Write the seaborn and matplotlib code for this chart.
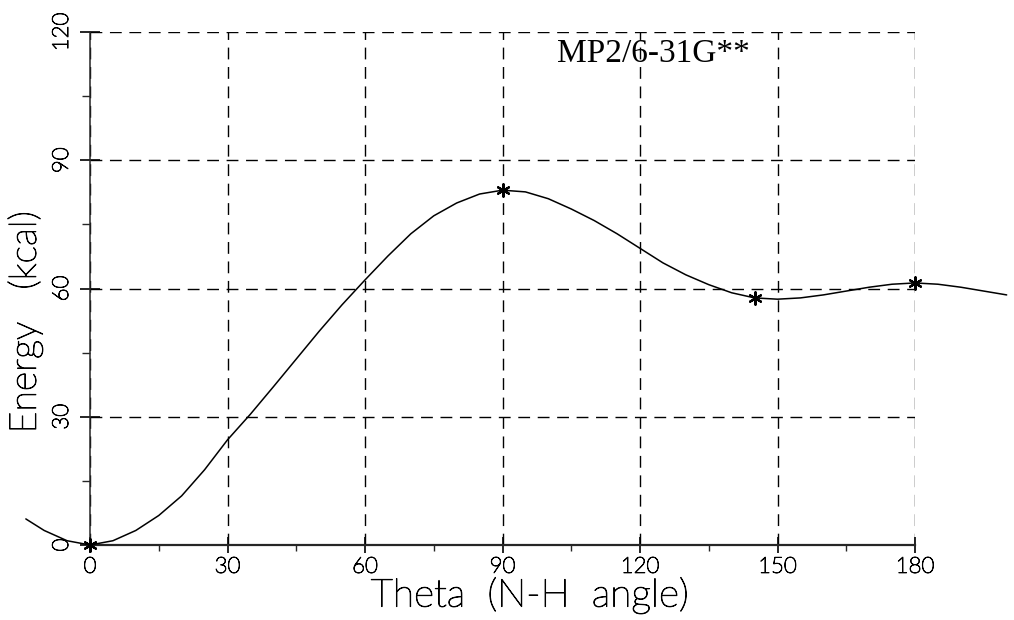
import matplotlib
matplotlib.use("Agg")
import matplotlib.pyplot as plt
import matplotlib.patheffects as pe
from matplotlib.ticker import MultipleLocator
import pandas as pd
import seaborn as sns

# Torsion scan: energy (kcal) against the N-H angle theta (degrees)
theta = [-14, -10, -5, 0, 5, 10, 15, 20, 25, 30, 35, 40, 45, 50, 55, 60, 65,
         70, 75, 80, 85, 90, 95, 100, 105, 110, 115, 120, 125, 130, 135, 140,
         145, 150, 155, 160, 165, 170, 175, 180, 185, 190, 195, 200]
energy = [6.1, 3.4, 1.0, 0.0, 1.0, 3.4, 6.9, 11.5, 17.6, 24.6, 30.6, 37.0,
          43.5, 50.0, 56.2, 62.0, 67.6, 72.8, 77.0, 80.0, 82.1, 83.0, 82.6,
          81.0, 78.6, 75.9, 72.8, 69.4, 66.0, 63.2, 60.9, 59.0, 57.8, 57.5,
          57.8, 58.5, 59.4, 60.3, 61.0, 61.3, 61.0, 60.3, 59.4, 58.5]

# Computed stationary points
calc_theta = [0, 90, 145, 180]
calc_energy = [0.0, 83.0, 57.8, 61.3]

x_ticks = [0, 30, 60, 90, 120, 150, 180]
y_ticks = [0, 30, 60, 90, 120]
x_labels = ["0", "30", "60", "90", "120", "150", "180"]
y_labels = ["0", "30", "60", "90", "120"]

method_label = "MP2/6-31G**"
x_title = "Theta  (N-H  angle)"
y_title = "Energy   (kcal)"

sns.set_style("ticks")
plt.rcParams["font.family"] = ["Lato", "DejaVu Sans"]
plt.rcParams["text.color"] = "black"

# thin plotter-like lettering, thickened a touch
thin = [pe.withStroke(linewidth=0.7, foreground="black")]

curve = pd.DataFrame({"theta": theta, "energy": energy})
points = pd.DataFrame({"theta": calc_theta, "energy": calc_energy})

W, H = 1014, 620
fig = plt.figure(figsize=(W / 100, H / 100), dpi=100)
ax = fig.add_axes([90 / W, 1 - 545 / H, 825 / W, 513 / H])

sns.lineplot(data=curve, x="theta", y="energy", color="black", lw=1.1,
             ax=ax, clip_on=False, zorder=3)
sns.scatterplot(data=points, x="theta", y="energy", color="black",
                marker=(6, 2, 0), s=80, linewidth=1.6, ax=ax, zorder=4,
                clip_on=False)

ax.set_xlim(0, 180)
ax.set_ylim(0, 120)
ax.set_xticks(x_ticks)
ax.set_xticklabels(x_labels)
ax.set_yticks(y_ticks)
ax.set_yticklabels(y_labels, rotation=90, va="center", ha="right")
ax.xaxis.set_minor_locator(MultipleLocator(15))
ax.yaxis.set_minor_locator(MultipleLocator(15))

ax.grid(True, which="major", color="black", lw=1.0,
        linestyle=(0, (8.5, 5.5)))
ax.set_axisbelow(True)

for side in ("top", "right"):
    ax.spines[side].set_visible(False)
ax.spines["left"].set_linewidth(1.1)
ax.spines["bottom"].set_linewidth(1.6)

ax.tick_params(axis="x", which="major", direction="inout", length=11,
               width=1.2, pad=3, labelsize=16, colors="black")
ax.tick_params(axis="x", which="minor", direction="out", length=4, width=1.0)
ax.tick_params(axis="y", which="major", direction="inout", length=14,
               width=1.2, pad=6, labelsize=16, colors="black")
ax.tick_params(axis="y", which="minor", direction="out", length=6, width=1.0)
for lab in ax.get_xticklabels() + ax.get_yticklabels():
    lab.set_fontweight("light")
    lab.set_path_effects(thin)

ax.set_xlabel("")
ax.set_ylabel("")
fig.text(530 / W, 1 - 595 / H, x_title, ha="center", va="center",
         fontsize=28, fontweight="light", path_effects=thin)
fig.text(25 / W, 1 - 322 / H, y_title, ha="center", va="center",
         rotation=90, fontsize=27, fontweight="light", path_effects=thin)

ax.text(102, 115, method_label, family=["Liberation Serif", "DejaVu Serif"],
        fontsize=24, va="center", ha="left")

fig.savefig("out.png", dpi=100, facecolor="white")
